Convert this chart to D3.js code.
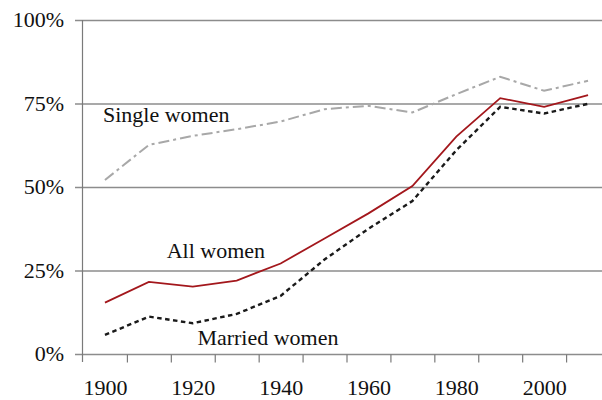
<!DOCTYPE html>
<html>
<head>
<meta charset="utf-8">
<script src="https://cdn.jsdelivr.net/npm/d3@7"></script>
<style>
  body { margin: 0; background: #fff; }
  svg text { font-family: "Liberation Serif", "DejaVu Serif", serif; fill: #111; }
</style>
</head>
<body>
<script>
// data
const years = [1900, 1910, 1920, 1930, 1940, 1950, 1960, 1970, 1980, 1990, 2000, 2010];
const singleWomen  = [52.1, 62.6, 65.3, 67.3, 69.6, 73.3, 74.3, 72.3, 77.8, 83.0, 78.8, 81.8];
const allWomen     = [15.4, 21.6, 20.2, 22.0, 27.1, 34.6, 42.1, 50.3, 65.1, 76.6, 74.0, 77.5];
const marriedWomen = [5.7, 11.2, 9.2, 12.0, 17.4, 28.3, 37.5, 45.8, 61.0, 74.0, 72.0, 74.9];
const yTicks = [0, 25, 50, 75, 100];
const xLabels = [1900, 1920, 1940, 1960, 1980, 2000];
const xTickMarks = [1905, 1915, 1925, 1935, 1945, 1955, 1965, 1975, 1985, 1995, 2005];

const width = 602, height = 400;

const svg = d3.select("body").append("svg")
    .attr("width", width)
    .attr("height", height);

const x = d3.scaleLinear()
    .domain([1895, 2015])
    .range([83, 610]);

const y = d3.scaleLinear()
    .domain([0, 100])
    .range([354, 20]);

// horizontal grid lines (also the x axis base line)
svg.append("g")
    .selectAll("line")
    .data(yTicks)
    .join("line")
    .attr("x1", 75)
    .attr("x2", width)
    .attr("y1", d => y(d) + 0.5)
    .attr("y2", d => y(d) + 0.5)
    .attr("stroke", "#8c8c8c")
    .attr("stroke-width", 1.3);

// y labels
svg.append("g")
    .selectAll("text")
    .data(yTicks)
    .join("text")
    .attr("x", 64)
    .attr("y", d => y(d) + 7)
    .attr("text-anchor", "end")
    .style("font-size", "22px")
    .text(d => d + "%");

// y axis line
svg.append("line")
    .attr("x1", 82.5).attr("x2", 82.5)
    .attr("y1", y(100)).attr("y2", y(0) + 8)
    .attr("stroke", "#7a7a7a")
    .attr("stroke-width", 1.2);

// x tick marks between decades
svg.append("g")
    .attr("transform", `translate(0, ${y(0) + 0.5})`)
    .call(d3.axisBottom(x).tickValues(xTickMarks).tickSize(8).tickFormat(""))
    .call(g => g.select(".domain").remove())
    .call(g => g.selectAll("line").attr("stroke", "#7a7a7a").attr("stroke-width", 1.2));

// x labels
svg.append("g")
    .attr("transform", `translate(0, ${y(0)})`)
    .call(d3.axisBottom(x).tickValues(xLabels).tickSize(0).tickPadding(25).tickFormat(d3.format("d")))
    .call(g => g.select(".domain").remove())
    .call(g => g.selectAll("text").style("font-size", "22px").attr("fill", "#111")
        .style("font-family", "'Liberation Serif', 'DejaVu Serif', serif"));

const line = d3.line()
    .x((d, i) => x(years[i]))
    .y(d => y(d));

svg.append("path")
    .datum(singleWomen)
    .attr("d", line)
    .attr("fill", "none")
    .attr("stroke", "#a8a8a8")
    .attr("stroke-width", 2)
    .attr("stroke-dasharray", "11,4,3,4");

svg.append("path")
    .datum(marriedWomen)
    .attr("d", line)
    .attr("fill", "none")
    .attr("stroke", "#1a1a1a")
    .attr("stroke-width", 2.4)
    .attr("stroke-dasharray", "4.5,3.5");

svg.append("path")
    .datum(allWomen)
    .attr("d", line)
    .attr("fill", "none")
    .attr("stroke", "#a3171c")
    .attr("stroke-width", 1.8);

// series labels
const labels = [
  {text: "Single women", year: 1900, value: 69.4},
  {text: "All women", year: 1914.5, value: 28.6},
  {text: "Married women", year: 1921.5, value: 2.7}
];
svg.append("g")
    .selectAll("text")
    .data(labels)
    .join("text")
    .attr("x", d => x(d.year) - 2)
    .attr("y", d => y(d.value))
    .style("font-size", "22px")
    .text(d => d.text);
</script>
</body>
</html>
